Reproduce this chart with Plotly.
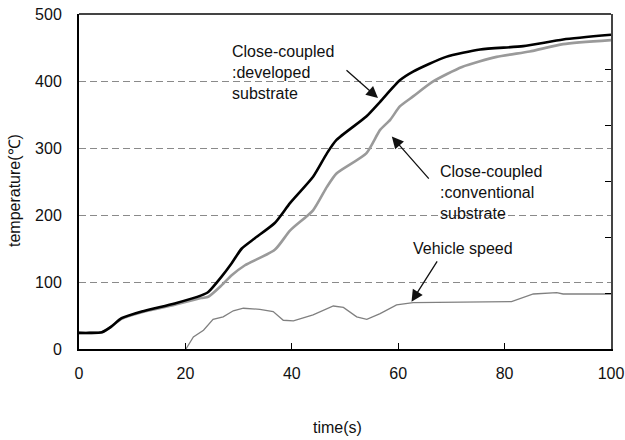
import plotly.graph_objects as go

# Close-coupled: developed substrate (temperature, °C)
t_dev = [0, 2, 4.3, 6, 8, 11.8, 18, 23, 24.3, 26.8, 28.7, 30.6, 33, 36.8, 39.7, 44, 46.6, 48.4,
         54, 56.6, 60.3, 62.8, 69, 75.4, 83.5, 91, 100]
T_dev = [24, 24, 25, 33, 46, 56, 68, 80, 85, 108, 128, 150, 165, 188, 218, 257, 292, 312,
         347, 369, 401, 414, 436, 447, 452, 462, 469]

# Close-coupled: conventional substrate (temperature, °C)
t_conv = [0, 2, 4.3, 6, 8, 11.8, 18, 23, 24.3, 26.8, 28.7, 31.2, 36.8, 39.7, 44, 46.6, 48.4,
          54, 56.6, 58.5, 60.3, 62.8, 66.5, 72, 78.5, 84.7, 91, 100]
T_conv = [24, 24, 25, 33, 45, 55, 66, 76, 78, 95, 110, 125, 148, 177, 207, 242, 262,
          292, 327, 342, 362, 377, 399, 421, 436, 444, 455, 461]

# Vehicle speed (secondary, unlabelled axis)
t_spd = [20.1, 21.5, 23.4, 25.2, 27.1, 29, 30.9, 34, 36.5, 38.4, 40.3, 44, 47.8, 49.7, 52.2,
         54.1, 56.6, 59.7, 62.8, 71.3, 81.3, 85.4, 89.8, 91, 100]
v_spd = [0, 4.3, 6.7, 10.6, 11.5, 13.7, 14.6, 14.2, 13.4, 10.3, 10.1, 12.2, 15.4, 14.9, 11.5,
         10.6, 12.7, 15.8, 16.6, 16.8, 17.0, 19.7, 20.2, 19.7, 19.7]

x_ticks = [0, 20, 40, 60, 80, 100]
y_ticks = [0, 100, 200, 300, 400, 500]

FONT = "Liberation Sans, Arial, sans-serif"

fig = go.Figure()
fig.add_trace(go.Scatter(x=t_conv, y=T_conv, mode="lines",
                         line=dict(color="#9a9a9a", width=2.6, shape="spline", smoothing=0.6),
                         showlegend=False))
fig.add_trace(go.Scatter(x=t_dev, y=T_dev, mode="lines",
                         line=dict(color="#000000", width=2.6, shape="spline", smoothing=0.6),
                         showlegend=False))
fig.add_trace(go.Scatter(x=t_spd, y=v_spd, mode="lines", yaxis="y2",
                         line=dict(color="#808080", width=1.3),
                         showlegend=False))

fig.update_layout(
    width=625, height=440,
    margin=dict(l=79, r=14, t=14, b=91, autoexpand=False),
    plot_bgcolor="white", paper_bgcolor="white",
    font=dict(family=FONT, size=16, color="#111"),
    xaxis=dict(range=[0, 100], tickvals=x_ticks, ticks="inside", ticklen=6, tickcolor="black",
               showline=True, linecolor="black", linewidth=2, showgrid=False, zeroline=False,
               ticklabelstandoff=9, tickfont=dict(size=16), automargin=False),
    yaxis=dict(range=[0, 500], tickvals=y_ticks, ticks="", showline=True, linecolor="black",
               linewidth=2, showgrid=True, gridcolor="#8a8a8a", gridwidth=1, griddash="7px,4px",
               zeroline=False, ticklabelstandoff=12, tickfont=dict(size=16), automargin=False),
    yaxis2=dict(range=[0, 120], dtick=20, overlaying="y", side="right", ticks="inside",
                ticklen=6, tickcolor="black", showticklabels=False, showline=True,
                linecolor="#444", linewidth=2, showgrid=False, zeroline=False, automargin=False),
    shapes=[dict(type="line", xref="paper", yref="paper", x0=0, x1=1, y0=1, y1=1,
                 line=dict(color="#444", width=2))],
)

ann = []
def label(text, xpix, ypix, size=16):
    ann.append(dict(text=text, xref="x", yref="y", x=(xpix - 79) / 5.32, y=(349 - ypix) / 0.67,
                    xanchor="left", yanchor="top", showarrow=False, align="left",
                    font=dict(size=size, color="#111")))

def arrow(x_tip, y_tip, x_tail, y_tail):
    ann.append(dict(text="", x=x_tip, y=y_tip, ax=x_tail, ay=y_tail, xref="x", yref="y",
                    axref="x", ayref="y", showarrow=True, arrowhead=2, arrowsize=1.8,
                    arrowwidth=1.3, arrowcolor="#111"))

label("Close-coupled<br>:developed<br>substrate", 230, 41)
label("Close-coupled<br>:conventional<br>substrate", 438, 161)
label("Vehicle speed", 411, 238)
arrow(56.2, 374.6, 50, 418)
arrow(58.8, 317, 66, 252)
arrow(62.5, 70.6, 67.5, 133)

ann.append(dict(text="time(s)", xref="paper", yref="paper", x=0.486, y=-0.233,
                xanchor="center", yanchor="middle", showarrow=False, font=dict(size=16)))
ann.append(dict(text="temperature(℃)", xref="paper", yref="paper", x=-0.12, y=0.472,
                xanchor="center", yanchor="middle", showarrow=False, textangle=-90,
                font=dict(size=16)))
fig.update_layout(annotations=ann)

fig.write_html("out.html")
